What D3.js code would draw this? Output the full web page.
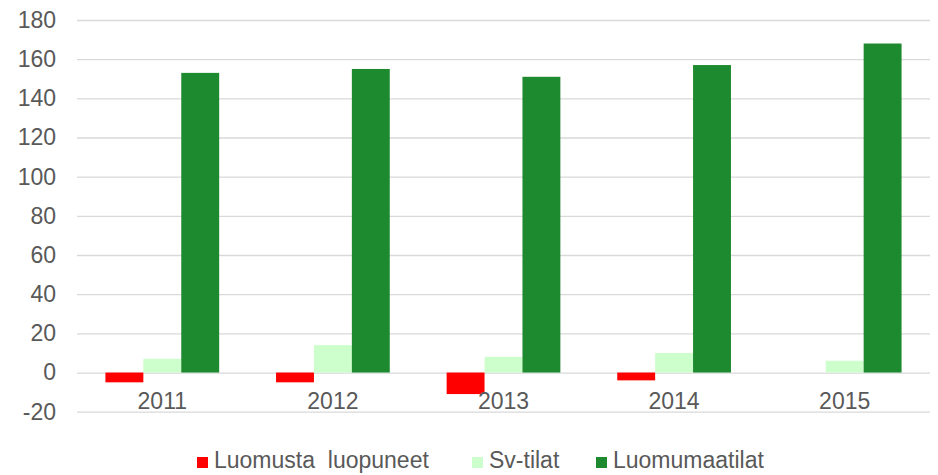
<!DOCTYPE html>
<html lang="fi">
  <head>
    <meta charset="UTF-8" />
    <script src="https://d3js.org/d3.v7.min.js"></script>
    <title>Luomutilat</title>
    <style type="text/css">
      body {
        margin: 0;
        background: #fff;
      }
      .tick line {
        stroke: #d9d9d9;
      }
      .tick text,
      .year-label,
      .legend text {
        fill: #595959;
        font-size: 23px;
        font-family: 'Liberation Sans', Arial, sans-serif;
      }
    </style>
  </head>
  <body>
    <svg width="938" height="475"></svg>
  </body>
  <script type="text/javascript">
    // data
    const years = ['2011', '2012', '2013', '2014', '2015'];
    const seriesNames = ['Luomusta  luopuneet', 'Sv-tilat', 'Luomumaatilat'];
    const luopuneet = [-5, -5, -11, -4, 0];
    const svTilat = [7, 14, 8, 10, 6];
    const luomumaatilat = [153, 155, 151, 157, 168];
    const yTicks = [-20, 0, 20, 40, 60, 80, 100, 120, 140, 160, 180];
    const colors = ['#ff0000', '#ccffcc', '#1e8a2f'];

    const seriesValues = [luopuneet, svTilat, luomumaatilat];

    const plotLeft = 77;
    const plotRight = 930;
    const plotTop = 20;
    const plotBottom = 411.7;

    const svg = d3.select('svg');

    const x0 = d3.scaleBand().domain(years).range([plotLeft, plotRight]);
    const barW = x0.step() / 4.5;
    const x1 = d3
      .scaleBand()
      .domain(d3.range(seriesNames.length))
      .range([0, barW * seriesNames.length]);
    const groupOffset = (x0.step() - barW * seriesNames.length) / 2;

    const y = d3.scaleLinear().domain([-20, 180]).range([plotBottom, plotTop]);

    // grid + y labels
    svg
      .append('g')
      .attr('transform', `translate(${plotLeft}, 0)`)
      .call(
        d3
          .axisLeft(y)
          .tickValues(yTicks)
          .tickFormat((d) => String(d))
          .tickSize(-(plotRight - plotLeft))
          .tickPadding(21)
      )
      .call((g) => g.select('.domain').remove())
      .call((g) => g.selectAll('.tick line').attr('stroke-width', 1.3));

    // bars
    const groups = svg
      .append('g')
      .selectAll('g')
      .data(years)
      .join('g')
      .attr('transform', (d) => `translate(${x0(d) + groupOffset}, 0)`);

    groups
      .selectAll('rect')
      .data((d, i) => seriesValues.map((vals, s) => ({ s, v: vals[i] })))
      .join('rect')
      .attr('x', (d) => x1(d.s))
      .attr('width', x1.bandwidth())
      .attr('y', (d) => y(Math.max(0, d.v)))
      .attr('height', (d) => Math.abs(y(d.v) - y(0)))
      .attr('fill', (d) => colors[d.s]);

    // year labels
    svg
      .append('g')
      .selectAll('text')
      .data(years)
      .join('text')
      .attr('class', 'year-label')
      .attr('x', (d) => x0(d) + x0.step() / 2)
      .attr('y', 409)
      .attr('text-anchor', 'middle')
      .text((d) => d);

    // legend (item positions as in the original)
    const legendX = [197, 472, 596];
    const legend = svg.append('g').attr('class', 'legend');
    seriesNames.forEach((name, i) => {
      const item = legend.append('g').attr('transform', `translate(${legendX[i]}, 0)`);
      item.append('rect').attr('x', 0).attr('y', 457).attr('width', 11).attr('height', 11).attr('fill', colors[i]);
      item
        .append('text')
        .attr('x', 17)
        .attr('y', 468)
        .style('white-space', 'pre')
        .text(name);
    });
  </script>
</html>
